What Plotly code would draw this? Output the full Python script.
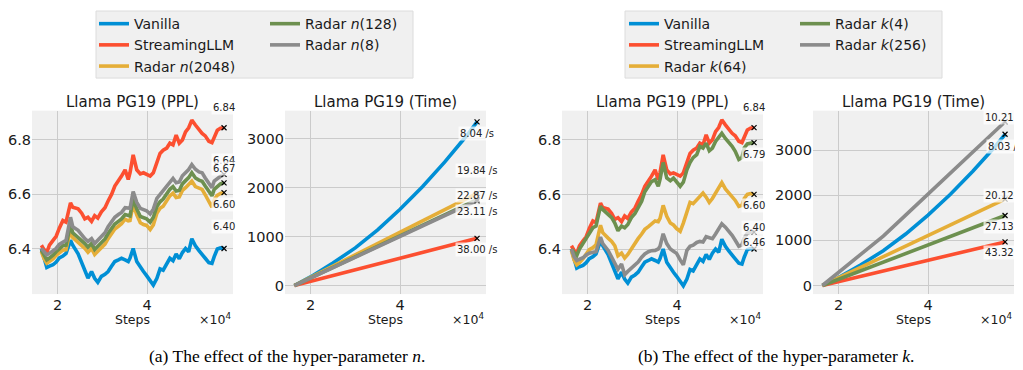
import plotly.graph_objects as go

# the page adds an 8px body margin, so the figure is 8px smaller than the window
OFF = 8
W, H = 1023 - OFF, 370 - OFF

# ---------------- data (steps in units of 1e4) ----------------
ppl_steps = [1.64, 1.70, 1.76, 1.82, 1.90, 1.97, 2.04, 2.12, 2.19, 2.29, 2.34, 2.46, 2.54, 2.61,
             2.68, 2.76, 2.83, 2.90, 2.98, 3.06, 3.13, 3.21, 3.28, 3.36, 3.43, 3.51, 3.58, 3.62,
             3.69, 3.77, 3.85, 3.92, 3.99, 4.07, 4.14, 4.22, 4.29, 4.36, 4.44, 4.51, 4.58, 4.65,
             4.72, 4.79, 4.86, 4.93, 5.00, 5.08, 5.16, 5.23, 5.30, 5.38, 5.45, 5.50, 5.57, 5.64, 5.72]

ppl_vanilla = [6.400, 6.360, 6.330, 6.335, 6.340, 6.350, 6.365, 6.372, 6.382, 6.430, 6.412, 6.380, 6.345, 6.315,
               6.291, 6.315, 6.290, 6.275, 6.297, 6.305, 6.315, 6.335, 6.352, 6.358, 6.364, 6.358, 6.352, 6.365,
               6.400, 6.352, 6.330, 6.315, 6.300, 6.280, 6.265, 6.290, 6.325, 6.320, 6.345, 6.364, 6.355, 6.380,
               6.362, 6.385, 6.400, 6.388, 6.436, 6.410, 6.392, 6.376, 6.364, 6.348, 6.345, 6.370, 6.398, 6.402, 6.400]

ppl_streaming = [6.412, 6.395, 6.385, 6.412, 6.430, 6.445, 6.475, 6.503, 6.497, 6.568, 6.552, 6.546, 6.530, 6.509,
                 6.515, 6.500, 6.521, 6.512, 6.535, 6.550, 6.575, 6.600, 6.630, 6.648, 6.667, 6.690, 6.654, 6.680,
                 6.745, 6.690, 6.675, 6.679, 6.672, 6.667, 6.679, 6.715, 6.750, 6.762, 6.770, 6.788, 6.782, 6.818,
                 6.788, 6.800, 6.830, 6.845, 6.873, 6.855, 6.838, 6.824, 6.815, 6.795, 6.790, 6.812, 6.836, 6.843, 6.845]

ppl_n2048 = [6.388, 6.362, 6.346, 6.352, 6.362, 6.375, 6.385, 6.394, 6.396, 6.470, 6.440, 6.424, 6.412, 6.400,
             6.386, 6.400, 6.378, 6.390, 6.400, 6.416, 6.436, 6.455, 6.472, 6.482, 6.491, 6.508, 6.502, 6.503,
             6.564, 6.524, 6.495, 6.488, 6.485, 6.470, 6.487, 6.530, 6.548, 6.556, 6.576, 6.594, 6.604, 6.588,
             6.590, 6.614, 6.624, 6.634, 6.648, 6.628, 6.622, 6.618, 6.598, 6.572, 6.552, 6.580, 6.596, 6.603, 6.606]

ppl_n128 = [6.394, 6.372, 6.358, 6.365, 6.375, 6.388, 6.400, 6.410, 6.412, 6.488, 6.458, 6.442, 6.430, 6.418,
            6.405, 6.418, 6.396, 6.408, 6.418, 6.435, 6.455, 6.473, 6.490, 6.500, 6.509, 6.525, 6.520, 6.520,
            6.582, 6.545, 6.518, 6.512, 6.509, 6.497, 6.515, 6.555, 6.572, 6.582, 6.600, 6.618, 6.628, 6.612,
            6.614, 6.638, 6.650, 6.661, 6.679, 6.660, 6.652, 6.648, 6.630, 6.610, 6.594, 6.618, 6.630, 6.638, 6.642]

ppl_n8 = [6.400, 6.385, 6.376, 6.382, 6.392, 6.400, 6.415, 6.425, 6.430, 6.515, 6.480, 6.467, 6.450, 6.436,
          6.426, 6.436, 6.418, 6.430, 6.442, 6.458, 6.480, 6.497, 6.515, 6.525, 6.533, 6.550, 6.550, 6.548,
          6.610, 6.570, 6.548, 6.542, 6.539, 6.527, 6.545, 6.585, 6.600, 6.612, 6.630, 6.648, 6.658, 6.642,
          6.645, 6.668, 6.680, 6.691, 6.709, 6.692, 6.682, 6.679, 6.660, 6.640, 6.624, 6.648, 6.658, 6.666, 6.673]

ppl_k64 = [6.394, 6.360, 6.342, 6.350, 6.365, 6.380, 6.398, 6.405, 6.415, 6.487, 6.460, 6.440, 6.428, 6.412,
           6.375, 6.385, 6.367, 6.380, 6.400, 6.424, 6.438, 6.455, 6.472, 6.482, 6.492, 6.503, 6.500, 6.512,
           6.560, 6.520, 6.495, 6.488, 6.475, 6.465, 6.495, 6.540, 6.571, 6.566, 6.582, 6.596, 6.605, 6.590,
           6.571, 6.585, 6.605, 6.622, 6.643, 6.620, 6.604, 6.590, 6.578, 6.556, 6.560, 6.585, 6.600, 6.603, 6.600]

ppl_k4 = [6.400, 6.385, 6.376, 6.400, 6.420, 6.440, 6.460, 6.478, 6.484, 6.557, 6.545, 6.527, 6.515, 6.495,
          6.467, 6.484, 6.478, 6.490, 6.515, 6.530, 6.551, 6.575, 6.610, 6.628, 6.647, 6.654, 6.630, 6.655,
          6.717, 6.660, 6.650, 6.660, 6.647, 6.630, 6.645, 6.690, 6.717, 6.735, 6.746, 6.776, 6.770, 6.788,
          6.760, 6.770, 6.794, 6.810, 6.824, 6.805, 6.790, 6.776, 6.758, 6.728, 6.735, 6.770, 6.785, 6.788, 6.790]

ppl_k256 = [6.400, 6.372, 6.358, 6.362, 6.368, 6.378, 6.385, 6.388, 6.390, 6.444, 6.420, 6.395, 6.372, 6.350,
            6.326, 6.345, 6.306, 6.318, 6.330, 6.342, 6.352, 6.370, 6.382, 6.390, 6.394, 6.395, 6.400, 6.410,
            6.456, 6.420, 6.400, 6.392, 6.384, 6.360, 6.342, 6.395, 6.410, 6.414, 6.424, 6.428, 6.426, 6.445,
            6.440, 6.438, 6.455, 6.474, 6.492, 6.480, 6.465, 6.450, 6.432, 6.410, 6.415, 6.440, 6.458, 6.462, 6.462]

time_steps = [1.64, 2.0, 2.5, 3.0, 3.5, 4.0, 4.5, 5.0, 5.5, 5.72]
time_vanilla = [0, 175, 460, 770, 1140, 1560, 2020, 2530, 3080, 3350]
time_streaming = [0, 85, 203, 322, 441, 560, 678, 797, 916, 965]
time_n2048 = [0, 165, 395, 625, 860, 1095, 1325, 1555, 1785, 1885]
time_n128 = [0, 154, 370, 585, 800, 1015, 1230, 1450, 1665, 1760]
time_n8 = [0, 152, 365, 578, 790, 1003, 1216, 1430, 1640, 1735]
time_k64 = [0, 170, 405, 640, 875, 1105, 1340, 1575, 1810, 1914]
time_k4 = [0, 137, 327, 517, 707, 897, 1087, 1277, 1467, 1551]
time_k256 = [0, 287, 690, 1095, 1560, 2028, 2493, 2958, 3423, 3627]

names_a = ["Vanilla", "StreamingLLM", "Radar <i>n</i>(2048)", "Radar <i>n</i>(128)", "Radar <i>n</i>(8)"]
names_b = ["Vanilla", "StreamingLLM", "Radar <i>k</i>(64)", "Radar <i>k</i>(4)", "Radar <i>k</i>(256)"]

labels_ppl_a = ["6.40", "6.84", "6.60", "6.64", "6.67"]
labels_time_a = ["8.04 /s", "38.00 /s", "19.84 /s", "22.87 /s", "23.11 /s"]
labels_ppl_b = ["6.40", "6.84", "6.60", "6.79", "6.46"]
labels_time_b = ["8.03 /s", "43.32 /s", "20.12 /s", "27.13 /s", "10.21 /s"]

x_ticks = [2, 4]
ppl_ticks = [6.4, 6.6, 6.8]
time_ticks = [0, 1000, 2000, 3000]

titles = ["Llama PG19 (PPL)", "Llama PG19 (Time)", "Llama PG19 (PPL)", "Llama PG19 (Time)"]
captions = ["(a) The effect of the hyper-parameter <i>n</i>.", "(b) The effect of the hyper-parameter <i>k</i>."]

# ---------------- style ----------------
colors = ["#008fd5", "#fc4f30", "#e5ae38", "#6d904f", "#8b8b8b"]
FONT = "DejaVu Sans"
TXT = "#1a1a1a"
LW = 3.6

# label vertical offsets (px, + = up)
shift_ppl_a = [22, 20, -12, 22, 6]
shift_time_a = [-12, -11, 23, 4, -11]
shift_ppl_b = [22, 20, -11, -12, -10]
shift_time_b = [-12, -11, 4, -11, 4]

# positions below are measured in window pixels; convert to paper fractions
px = lambda v: (v - OFF) / W
py = lambda v: 1 - (v - OFF) / H

dom_x = [(32, 233), (285, 486), (562, 763), (813, 1014)]
dom_y = (py(293), py(107))
yranges = [(6.232, 6.908), (-175, 3579), (6.235, 6.907), (-190, 3874)]
xrange_ = (1.43, 5.92)

fig = go.Figure()

panels = [
    (ppl_steps, [ppl_vanilla, ppl_streaming, ppl_n2048, ppl_n128, ppl_n8], names_a, labels_ppl_a, shift_ppl_a,
     ["legend", "legend", "legend", "legend2", "legend2"], True),
    (time_steps, [time_vanilla, time_streaming, time_n2048, time_n128, time_n8], names_a, labels_time_a, shift_time_a,
     None, False),
    (ppl_steps, [ppl_vanilla, ppl_streaming, ppl_k64, ppl_k4, ppl_k256], names_b, labels_ppl_b, shift_ppl_b,
     ["legend3", "legend3", "legend3", "legend4", "legend4"], True),
    (time_steps, [time_vanilla, time_streaming, time_k64, time_k4, time_k256], names_b, labels_time_b, shift_time_b,
     None, False),
]

annotations = []
for p, (xs, series, names, labels, shifts, legs, show) in enumerate(panels):
    xa = "x" if p == 0 else f"x{p+1}"
    ya = "y" if p == 0 else f"y{p+1}"
    for i, ys in enumerate(series):
        kw = dict(legend=legs[i]) if show else {}
        fig.add_trace(go.Scatter(x=xs, y=ys, mode="lines", name=names[i],
                                 line=dict(color=colors[i], width=LW),
                                 showlegend=show, xaxis=xa, yaxis=ya, **kw))
    for i, ys in enumerate(series):
        fig.add_trace(go.Scatter(x=[xs[-1]], y=[ys[-1]], mode="markers", showlegend=False,
                                 marker=dict(symbol="x-thin", size=5, line=dict(color="black", width=1.2)),
                                 xaxis=xa, yaxis=ya, hoverinfo="skip"))
        annotations.append(dict(x=xs[-1], y=ys[-1], xref=xa, yref=ya, text=labels[i], showarrow=False,
                                yshift=shifts[i], font=dict(family=FONT, size=10, color="#222"),
                                bgcolor="rgba(255,255,255,0.72)", borderpad=1))
    x0, x1 = dom_x[p]
    annotations.append(dict(x=px((x0 + x1) / 2), y=py(98.5), xref="paper", yref="paper", text=titles[p],
                            showarrow=False, xanchor="center", yanchor="middle",
                            font=dict(family=FONT, size=15, color=TXT)))
    annotations.append(dict(x=px((x0 + x1) / 2), y=py(319), xref="paper", yref="paper", text="Steps",
                            showarrow=False, xanchor="center", yanchor="middle",
                            font=dict(family=FONT, size=12.5, color=TXT)))
    annotations.append(dict(x=px(x1), y=py(318), xref="paper", yref="paper", text="×10<sup>4</sup>",
                            showarrow=False, xanchor="right", yanchor="middle",
                            font=dict(family=FONT, size=12.5, color=TXT)))

    axis_common = dict(showgrid=True, gridcolor="#cbcbcb", gridwidth=1, zeroline=False, showline=False,
                       ticks="", tickfont=dict(family=FONT, size=14.5, color=TXT))
    xkey = "xaxis" if p == 0 else f"xaxis{p+1}"
    ykey = "yaxis" if p == 0 else f"yaxis{p+1}"
    fig.update_layout(**{
        xkey: dict(domain=[px(x0), px(x1)], range=list(xrange_), anchor=ya, tickvals=x_ticks,
                   ticktext=[str(t) for t in x_ticks], **axis_common),
        ykey: dict(domain=list(dom_y), range=list(yranges[p]), anchor=xa,
                   tickvals=ppl_ticks if p % 2 == 0 else time_ticks,
                   ticktext=[f"{t:.1f}" for t in ppl_ticks] if p % 2 == 0 else [str(t) for t in time_ticks],
                   **axis_common),
    })

for j, cap in enumerate(captions):
    annotations.append(dict(x=px(287 if j == 0 else 776), y=py(356), xref="paper", yref="paper", text=cap,
                            showarrow=False, xanchor="center", yanchor="middle",
                            font=dict(family="Liberation Serif", size=17.5, color="black")))

# legend boxes
shapes = []
for (bx0, bx1) in [(96, 413), (625, 942)]:
    shapes.append(dict(type="rect", xref="paper", yref="paper", x0=px(bx0), x1=px(bx1), y0=py(74), y1=py(6),
                       fillcolor="#f0f0f0", line=dict(color="#dcdcdc", width=1), layer="below"))

leg_common = dict(xanchor="left", yanchor="top", bgcolor="rgba(0,0,0,0)", borderwidth=0,
                  font=dict(family=FONT, size=14, color=TXT), tracegroupgap=0, orientation="v")

fig.update_layout(
    width=W, height=H, margin=dict(l=0, r=0, t=0, b=0),
    paper_bgcolor="white", plot_bgcolor="#f0f0f0",
    showlegend=True,
    legend=dict(x=px(94), y=py(3), **leg_common),
    legend2=dict(x=px(265), y=py(3), **leg_common),
    legend3=dict(x=px(624), y=py(3), **leg_common),
    legend4=dict(x=px(795), y=py(3), **leg_common),
    annotations=annotations, shapes=shapes,
)

fig.write_html("out.html")
